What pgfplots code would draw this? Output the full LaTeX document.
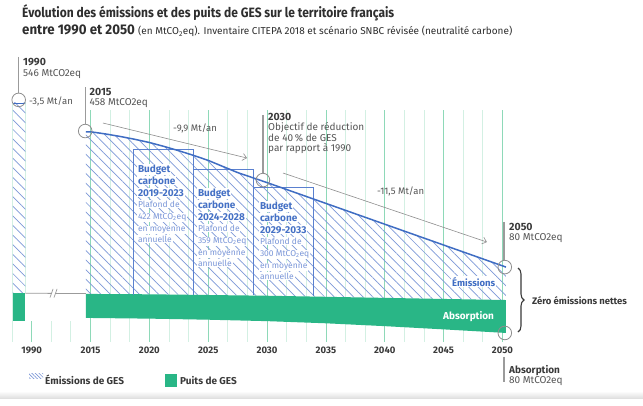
\documentclass[border=0pt]{standalone}
\usepackage{pgfplots}
\pgfplotsset{compat=1.18}
\usetikzlibrary{patterns.meta,decorations.pathreplacing,arrows.meta}
\usepackage{fontspec}
\setmainfont{Fira Sans}
\newfontfamily\condfont[FakeStretch=0.89]{Fira Sans}
\newfontfamily\condtwo[FakeStretch=0.95]{Fira Sans}
\definecolor{titlegray}{HTML}{2E2E2E}
\definecolor{annot}{HTML}{555555}
\definecolor{annotb}{HTML}{3A3A3A}
\definecolor{gridlight}{HTML}{D3F0E3}
\definecolor{griddark}{HTML}{8ED9B8}
\definecolor{hatchblue}{HTML}{7D98D8}
\definecolor{blueline}{HTML}{3F6DC3}
\definecolor{boxblue}{HTML}{5A80CF}
\definecolor{boxbold}{HTML}{4571C5}
\definecolor{boxreg}{HTML}{7A96D8}
\definecolor{puits}{HTML}{29B686}
\definecolor{circgray}{HTML}{8E8E8E}
\definecolor{leader}{HTML}{9B9B9B}
\newcommand{\fs}[1]{\fontsize{#1}{#1}\selectfont}
\begin{document}
\begin{tikzpicture}[x=1pt,y=1pt]
\useasboundingbox (0,0) rectangle (643,-405);
\fill[white] (0,0) rectangle (643,-405);
\shade[top color=white,bottom color=black!12] (0,-391) rectangle (643,-398);
\begin{axis}[at={(8.11pt,-341.9pt)},anchor=south west,
  x=11.77pt,y=0.358pt,xmin=2008,xmax=2052,ymin=-129,ymax=518.7,
  clip=false,axis line style={draw=none},tick style={draw=none},
  ytick=\empty,xtick pos=bottom,
  xtick={2010,2015,2020,2025,2030,2035,2040,2045,2050},
  xticklabels={1990,2015,2020,2025,2030,2035,2040,2045,2050},
  xticklabel style={font=\fs{9.5}\bfseries,text=annotb,yshift=-1.5pt}]
% grid lines
\pgfplotsinvokeforeach{2015,2016.667,2018.333,2020,2021.667,2023.333,2025,2026.667,2028.333,2030,2031.667,2033.333,2035,2036.667,2038.333,2040,2041.667,2043.333,2045,2046.667,2048.333,2050}{
  \draw[gridlight,line width=0.8pt] (axis cs:#1,-129) -- (axis cs:#1,518.7);}
\pgfplotsinvokeforeach{2015,2020,2025,2030,2035,2040,2045,2050}{
  \draw[griddark,line width=0.8pt] (axis cs:#1,-129) -- (axis cs:#1,518.7);}
\draw[gridlight,line width=0.8pt] (axis cs:2008.36,-129) -- (axis cs:2008.36,540);
\draw[gridlight,line width=0.8pt] (axis cs:2009.47,7) -- (axis cs:2009.47,540);
\draw[griddark,line width=0.8pt] (axis cs:2010,-129) -- (axis cs:2010,-71);
\draw[gridlight,line width=0.8pt] (axis cs:2011.667,-129) -- (axis cs:2011.667,-71);
\draw[gridlight,line width=0.8pt] (axis cs:2013.333,-129) -- (axis cs:2013.333,-71);
% emissions hatch
\addplot[draw=none,pattern={Lines[angle=-45,distance=6.8pt,line width=0.7pt]},pattern color=hatchblue]
 coordinates {(2008.4,7) (2008.4,540) (2009.47,540) (2009.47,7)};
\addplot[draw=none,pattern={Lines[angle=-45,distance=6.8pt,line width=0.7pt]},pattern color=hatchblue]
 coordinates {(2014.6,5) (2014.6,458) (2015,458) (2016.25,452) (2017.5,445) (2018.75,437) (2020,428) (2021.25,417) (2022.5,405) (2023.75,392) (2025,378) (2026.25,361) (2027.5,344) (2028.75,330) (2030,316) (2035,257.9) (2040,199.8) (2045,141.6) (2050.3,80) (2050.3,-12) (2045,-9) (2040,-6) (2035,-3) (2030,0) (2025,2) (2020,4)};
% puits
\addplot[fill=puits,draw=none] coordinates {(2008.4,7) (2009.45,7) (2009.45,-71) (2008.4,-71)};
\addplot[fill=puits,draw=none] coordinates {(2014.6,5) (2020,4) (2025,2) (2030,0) (2035,-3) (2040,-6) (2045,-9) (2050.3,-12) (2050.3,-104) (2045,-94) (2040,-85) (2035,-77) (2030,-71) (2025,-67) (2020,-64) (2014.6,-62)};
% connector and break
\addplot[leader,line width=0.8pt] coordinates {(2009.47,7) (2014.6,6)};
\addplot[draw=white,line width=2.5pt] coordinates {(2011.7,6.5) (2012.0,6.5)};
\addplot[leader,line width=0.7pt] coordinates {(2011.56,-5) (2011.82,19)};
\addplot[leader,line width=0.7pt] coordinates {(2011.9,-5) (2012.16,19)};
% budget boxes
\addplot[boxblue,line width=0.7pt] coordinates {(2018.6,2) (2018.6,408) (2023.7,408) (2023.7,2)};
\addplot[boxblue,line width=0.7pt] coordinates {(2023.7,352) (2028.8,352) (2028.8,1)};
\addplot[boxblue,line width=0.7pt] coordinates {(2028.8,302) (2033.9,302) (2033.9,-2)};
% emission line
\addplot[blueline,line width=1.5pt] coordinates {(2014.6,458) (2015,458) (2016.25,452) (2017.5,445) (2018.75,437) (2020,428) (2021.25,417) (2022.5,405) (2023.75,392) (2025,378) (2026.25,361) (2027.5,344) (2028.75,330) (2030,316) (2050.3,80)};
\addplot[blueline,line width=1.2pt] coordinates {(2008.4,536) (2009.47,536)};
% leaders
\addplot[leader,line width=1.3pt] coordinates {(2008.9,667) (2008.9,565)};
\addplot[leader,line width=1.3pt] coordinates {(2014.55,583) (2014.55,480)};
\addplot[leader,line width=1.3pt] coordinates {(2029.65,504) (2029.65,343)};
\addplot[leader,line width=1.3pt] coordinates {(2050.13,206) (2050.13,100)};
\addplot[leader,line width=1.3pt] coordinates {(2050.13,-171) (2050.13,-241)};
% arrows
\addplot[circgray,line width=0.6pt,-{Straight Barb[length=4pt,width=7pt]}] coordinates {(2016.06,482.4) (2028.3,384.6)};
\addplot[circgray,line width=0.6pt,-{Straight Barb[length=4pt,width=7pt]}] coordinates {(2031.36,342.7) (2048.68,149.9)};
% circles
\addplot[only marks,mark=o,mark size=6.8pt,mark options={draw=circgray,line width=0.8pt}]
 coordinates {(2008.9,547) (2014.55,460) (2029.65,323) (2050.2,80) (2050.2,-104)};
\end{axis}
% title
\node[anchor=base west,inner sep=0,text=titlegray] at (22,-17.5) {\condfont\fs{13.5}\bfseries Évolution des émissions et des puits de GES sur le territoire français};
\node[anchor=base west,inner sep=0,text=titlegray] at (22,-34.5) {\condtwo\fs{14}\bfseries entre 1990 et 2050 \normalfont\fs{10}\mdseries (en MtCO\textsubscript{2}eq). Inventaire CITEPA 2018 et scénario SNBC révisée (neutralité carbone)};
% annotations
\node[anchor=base west,inner sep=0,text=annotb] at (23,-65) {\fs{10.5}\bfseries 1990};
\node[anchor=base west,inner sep=0,text=annot] at (23,-76) {\fs{10}546 MtCO2eq};
\node[anchor=base west,inner sep=0,text=annot] at (29,-104) {\fs{9.5}-3,5 Mt/an};
\node[anchor=base west,inner sep=0,text=annotb] at (89.5,-95) {\fs{10.5}\bfseries 2015};
\node[anchor=base west,inner sep=0,text=annot] at (89.5,-105.5) {\fs{10}458 MtCO2eq};
\node[anchor=base west,inner sep=0,text=annot] at (173,-131) {\fs{9.5}-9,9 Mt/an};
\node[anchor=base west,inner sep=0,text=annotb] at (268,-120) {\fs{10.5}\bfseries 2030};
\node[anchor=base west,inner sep=0,text=annot] at (268,-130.5) {\fs{10}Objectif de réduction};
\node[anchor=base west,inner sep=0,text=annot] at (268,-141) {\fs{10}de 40\,\% de GES};
\node[anchor=base west,inner sep=0,text=annot] at (268,-151.5) {\fs{10}par rapport à 1990};
\node[anchor=base west,inner sep=0,text=annot] at (377,-194) {\fs{9.5}-11,5 Mt/an};
\node[anchor=base west,inner sep=0,text=annotb] at (509,-230) {\fs{10.5}\bfseries 2050};
\node[anchor=base west,inner sep=0,text=annot] at (509,-240.5) {\fs{10}80 MtCO2eq};
\node[anchor=base west,inner sep=0,text=annotb] at (509,-373) {\fs{10}\bfseries Absorption};
\node[anchor=base west,inner sep=0,text=annot] at (509,-383) {\fs{10}80 MtCO2eq};
\node[anchor=base west,inner sep=1pt,fill=white,text=blueline] at (451,-286) {\fs{9.5}\bfseries Émissions};
\node[anchor=base west,inner sep=0,text=white] at (443,-319) {\fs{10}\bfseries Absorption};
\draw[decorate,decoration={brace,amplitude=6pt},annotb,line width=1.1pt] (518,-268) -- (518,-332);
\node[anchor=base west,inner sep=0,text=annotb] at (532,-304) {\fs{9.5}\bfseries Zéro émissions nettes};
% budget texts
\begin{scope}[every node/.style={anchor=base west,inner sep=0.8pt,fill=white}]
\node[text=boxbold] at (137,-172) {\fs{10}\bfseries Budget};
\node[text=boxbold] at (137,-184) {\fs{10}\bfseries carbone};
\node[text=boxbold] at (137,-196) {\fs{10}\bfseries 2019-2023};
\node[text=boxreg] at (137,-207.5) {\fs{8.5}Plafond de};
\node[text=boxreg] at (137,-219.5) {\fs{8.5}422 MtCO\textsubscript{2}eq};
\node[text=boxreg] at (137,-231) {\fs{8.5}en moyenne};
\node[text=boxreg] at (137,-242.5) {\fs{8.5}annuelle};
\node[text=boxbold] at (197,-196) {\fs{10}\bfseries Budget};
\node[text=boxbold] at (197,-208) {\fs{10}\bfseries carbone};
\node[text=boxbold] at (197,-220) {\fs{10}\bfseries 2024-2028};
\node[text=boxreg] at (197,-231.5) {\fs{8.5}Plafond de};
\node[text=boxreg] at (197,-243.5) {\fs{8.5}359 MtCO\textsubscript{2}eq};
\node[text=boxreg] at (197,-255) {\fs{8.5}en moyenne};
\node[text=boxreg] at (197,-266.5) {\fs{8.5}annuelle};
\node[text=boxbold] at (259,-209) {\fs{10}\bfseries Budget};
\node[text=boxbold] at (259,-221) {\fs{10}\bfseries carbone};
\node[text=boxbold] at (259,-233) {\fs{10}\bfseries 2029-2033};
\node[text=boxreg] at (259,-244.5) {\fs{8.5}Plafond de};
\node[text=boxreg] at (259,-256.5) {\fs{8.5}300 MtCO\textsubscript{2}eq};
\node[text=boxreg] at (259,-268) {\fs{8.5}en moyenne};
\node[text=boxreg] at (259,-279.5) {\fs{8.5}annuelle};
\end{scope}
% legend
\fill[pattern={Lines[angle=-45,distance=2.5pt,line width=0.6pt]},pattern color=hatchblue] (29,-373) rectangle (43,-378);
\node[anchor=base west,inner sep=0,text=annotb] at (45,-384) {\fs{10}\bfseries Émissions de GES};
\fill[puits] (165,-374.3) rectangle (176.7,-386.7);
\node[anchor=base west,inner sep=0,text=annotb] at (180,-384) {\fs{10}\bfseries Puits de GES};
\end{tikzpicture}
\end{document}
